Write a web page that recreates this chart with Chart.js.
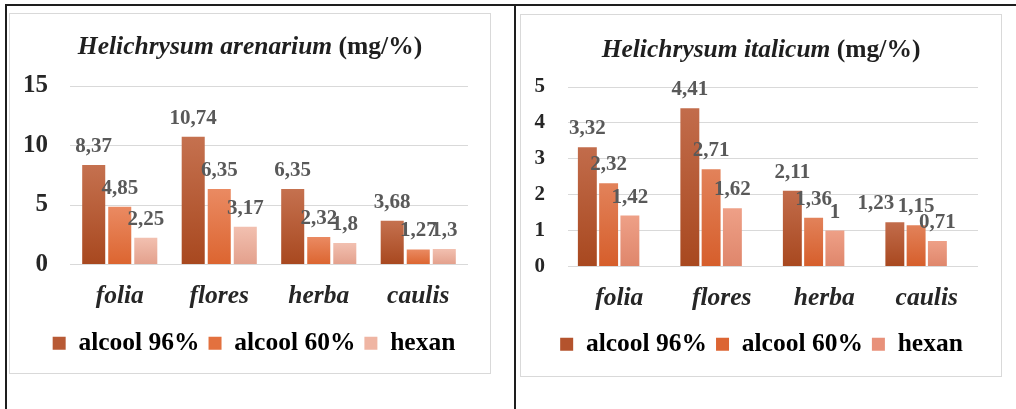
<!DOCTYPE html>
<html><head><meta charset="utf-8">
<script src="https://cdn.jsdelivr.net/npm/chart.js@4"></script>
<style>
html,body{margin:0;padding:0;background:#fff;width:1016px;height:409px;overflow:hidden;position:relative}
.line{position:absolute;background:#1e1e1e}
.box{position:absolute;border:1px solid #d9d9d9;background:#fff}
.box canvas{display:block}
</style></head><body>
<div class="line" style="left:5px;top:4px;width:1011px;height:2px"></div>
<div class="line" style="left:5px;top:4px;width:2px;height:405px"></div>
<div class="line" style="left:514px;top:4px;width:2px;height:405px"></div>
<div class="box" style="left:9px;top:13px;width:480px;height:359px"><canvas id="c1" width="480" height="359"></canvas></div>
<div class="box" style="left:520px;top:14px;width:480px;height:361px"><canvas id="c2" width="480" height="361"></canvas></div>
<script>
// ---- data ----
const categories = ['folia', 'flores', 'herba', 'caulis'];
const seriesNames = ['alcool 96%', 'alcool 60%', 'hexan'];
const arenariumAlcool96 = [8.37, 10.74, 6.35, 3.68];
const arenariumAlcool60 = [4.85, 6.35, 2.32, 1.27];
const arenariumHexan = [2.25, 3.17, 1.8, 1.3];
const italicumAlcool96 = [3.32, 4.41, 2.11, 1.23];
const italicumAlcool60 = [2.32, 2.71, 1.36, 1.15];
const italicumHexan = [1.42, 1.62, 1, 0.71];
const italicumEmptySeries = [null, null, null, null]; // empty 4th series slot (as in the original)
const arenariumTicks = [0, 5, 10, 15];
const italicumTicks = [0, 1, 2, 3, 4, 5];

const FONT = '"Liberation Serif", "Times New Roman", serif';

function grad(top, bottom) {
  return function (c) {
    const chart = c.chart;
    if (!chart.chartArea || c.raw == null) return bottom;
    const ys = chart.scales.y;
    const g = chart.ctx.createLinearGradient(0, ys.getPixelForValue(c.raw), 0, ys.getPixelForValue(0));
    g.addColorStop(0, top);
    g.addColorStop(1, bottom);
    return g;
  };
}

const titlePlugin = {
  id: 'mixedTitle',
  afterLayout(chart, args, o) {
    // nudge the legend horizontally, as in the original layout
    if (chart.legend && o.legendDx) {
      chart.legend.left += o.legendDx;
      chart.legend.right += o.legendDx;
    }
  },
  afterDraw(chart, args, o) {
    const ctx = chart.ctx;
    ctx.save();
    const fi = 'italic bold ' + o.size + 'px ' + FONT;
    const fr = 'bold ' + o.size + 'px ' + FONT;
    ctx.font = fi; const w1 = ctx.measureText(o.italic).width;
    ctx.font = fr; const w2 = ctx.measureText(o.rest).width;
    const x = (chart.width - w1 - w2) / 2;
    ctx.textBaseline = 'middle';
    ctx.fillStyle = '#1f1f1f';
    ctx.font = fi; ctx.fillText(o.italic, x, o.y);
    ctx.font = fr; ctx.fillText(o.rest, x + w1, o.y);
    ctx.restore();
  }
};

const labelPlugin = {
  id: 'valueLabels',
  afterDatasetsDraw(chart, args, o) {
    const ctx = chart.ctx;
    ctx.save();
    ctx.font = 'bold 21px ' + FONT;
    ctx.fillStyle = '#595959';
    ctx.textAlign = 'center';
    ctx.textBaseline = 'alphabetic';
    const shifts = (o && o.shifts) || {};
    chart.data.datasets.forEach((ds, di) => {
      const meta = chart.getDatasetMeta(di);
      meta.data.forEach((el, i) => {
        const v = ds.data[i];
        if (v == null) return;
        const dx = shifts[di + '-' + i] || 0;
        ctx.fillText(String(v).replace('.', ','), el.x + dx, el.y - 13);
      });
    });
    ctx.restore();
  }
};

function makeChart(id, o) {
  const datasets = o.series.map((d, i) => ({
    label: seriesNames[i] || '',
    data: d,
    backgroundColor: o.grads[i] ? grad(o.grads[i][0], o.grads[i][1]) : 'rgba(0,0,0,0)',
    borderWidth: 0,
    categoryPercentage: o.catPct,
    barPercentage: o.barPct
  }));
  return new Chart(document.getElementById(id), {
    type: 'bar',
    data: { labels: categories, datasets },
    plugins: [titlePlugin, labelPlugin],
    options: {
      responsive: false,
      animation: false,
      events: [],
      layout: { padding: { top: o.padTop, right: o.padRight, bottom: o.padBottom, left: 0 } },
      scales: {
        x: {
          grid: { display: false, drawTicks: false },
          border: { display: false },
          ticks: { color: '#262626', padding: o.xPad, font: { family: FONT, size: 25.5, style: 'italic', weight: 'bold' } },
          afterFit(s) { s.height = o.xHeight; }
        },
        y: {
          min: o.ticks[0], max: o.ticks[o.ticks.length - 1],
          afterBuildTicks(s) { s.ticks = o.ticks.map(v => ({ value: v })); },
          grid: { color: '#d9d9d9', lineWidth: 1, drawTicks: false },
          border: { display: false },
          ticks: { color: '#262626', padding: o.yPad, font: { family: FONT, size: o.yFont, weight: 'bold' } },
          afterFit(s) { s.width = o.yWidth; }
        }
      },
      plugins: {
        tooltip: { enabled: false },
        title: { display: false },
        mixedTitle: { italic: o.titleItalic, rest: ' (mg/%)', y: o.titleY, size: 25.5, legendDx: o.legendDx },
        valueLabels: { shifts: o.shifts || {} },
        legend: {
          position: 'bottom',
          labels: {
            color: '#262626',
            boxWidth: 13, boxHeight: 13,
            padding: o.legendPad,
            font: { family: FONT, size: 25.5, weight: 'bold' },
            generateLabels() {
              return seriesNames.map((n, i) => ({ text: n, fillStyle: o.legend[i], strokeStyle: o.legend[i], lineWidth: 0, datasetIndex: i, hidden: false }));
            }
          }
        }
      }
    }
  });
}

makeChart('c1', {
  series: [arenariumAlcool96, arenariumAlcool60, arenariumHexan],
  grads: [['#c5714f', '#a8481f'], ['#ea8a62', '#dc6530'], ['#f2c0b0', '#e3a08c']],
  legend: ['#b85a35', '#e3713f', '#efb5a3'],
  catPct: 0.785, barPct: 0.885,
  ticks: arenariumTicks, yFont: 25, yPad: 22, yWidth: 60,
  padTop: 72, padRight: 22, padBottom: 7,
  xPad: 17, xHeight: 57, legendPad: 9, legendDx: 15,
  titleItalic: 'Helichrysum arenarium', titleY: 33
});

makeChart('c2', {
  series: [italicumAlcool96, italicumAlcool60, italicumHexan, italicumEmptySeries],
  grads: [['#c26c4b', '#a8481f'], ['#e2825a', '#d65e2b'], ['#eea087', '#df866b'], null],
  legend: ['#b4532d', '#dc6533', '#e8917a'],
  catPct: 0.83, barPct: 0.89,
  ticks: italicumTicks, yFont: 21, yPad: 23, yWidth: 47,
  padTop: 72, padRight: 23, padBottom: 9,
  xPad: 17, xHeight: 56, legendPad: 9, legendDx: 12,
  titleItalic: 'Helichrysum italicum', titleY: 35,
  shifts: { '0-3': -19 }
});
</script>
</body></html>
